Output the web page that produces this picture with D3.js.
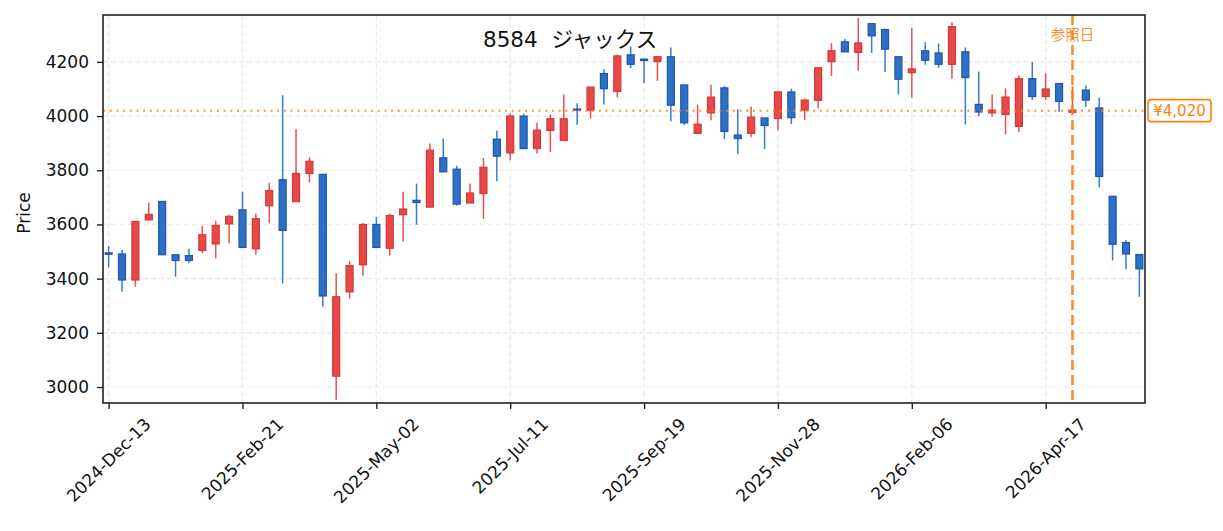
<!DOCTYPE html>
<html>
<head>
<meta charset="utf-8">
<script src="https://cdn.jsdelivr.net/npm/d3@7"></script>
<style>
  body { margin: 0; background: #fff; }
  svg { display: block; }
</style>
</head>
<body>
<div id="chart"></div>
<script>
// weekly candles, Japanese colouring (red = up, blue = down)
const startDate = "2024-12-13";
const candleCount = 78;

const opens = [3495, 3491, 3395, 3617, 3685, 3488, 3485, 3504, 3528, 3602,
  3654, 3510, 3669, 3765, 3684, 3788, 3785, 3040, 3351, 3451,
  3600, 3512, 3636, 3689, 3664, 3846, 3804, 3679, 3714, 3915,
  3864, 4000, 3880, 3947, 3910, 4026, 4022, 4157, 4091, 4226,
  4210, 4201, 4219, 4115, 3936, 4012, 4104, 3930, 3936, 3993,
  3991, 4089, 4022, 4058, 4201, 4274, 4235, 4341, 4319, 4219,
  4160, 4241, 4233, 4191, 4237, 4043, 4012, 4006, 3962, 4138,
  4072, 4120, 4014, 4096, 4030, 3704, 3533, 3489];
const highs = [3521, 3506, 3611, 3681, 3685, 3488, 3510, 3595, 3614, 3636,
  3721, 3640, 3754, 4077, 3951, 3848, 3785, 3420, 3465, 3605,
  3627, 3640, 3721, 3751, 3899, 3917, 3817, 3751, 3846, 3947,
  4010, 4009, 3975, 4006, 4080, 4047, 4107, 4173, 4228, 4257,
  4212, 4219, 4253, 4115, 4042, 4116, 4111, 4025, 4035, 3993,
  4089, 4101, 4065, 4178, 4269, 4284, 4362, 4341, 4323, 4219,
  4325, 4272, 4268, 4346, 4253, 4164, 4080, 4102, 4151, 4200,
  4158, 4120, 4110, 4114, 4068, 3704, 3543, 3489];
const lows = [3441, 3352, 3370, 3617, 3488, 3407, 3457, 3494, 3475, 3531,
  3515, 3488, 3605, 3383, 3684, 3756, 3296, 2953, 3326, 3411,
  3515, 3485, 3537, 3599, 3664, 3794, 3670, 3679, 3621, 3759,
  3837, 3880, 3862, 3867, 3910, 3967, 3991, 4043, 4069, 4177,
  4121, 4130, 3981, 3967, 3936, 3985, 3915, 3859, 3922, 3878,
  3948, 3970, 3985, 4028, 4148, 4237, 4167, 4233, 4163, 4080,
  4068, 4189, 4178, 4138, 3969, 4000, 3998, 3933, 3941, 4059,
  4059, 4015, 4010, 4033, 3737, 3467, 3435, 3333];
const closes = [3490, 3395, 3611, 3637, 3488, 3467, 3467, 3562, 3596, 3630,
  3515, 3621, 3725, 3578, 3788, 3833, 3336, 3333, 3448, 3600,
  3515, 3633, 3657, 3681, 3874, 3794, 3675, 3716, 3811, 3852,
  4000, 3880, 3948, 3990, 3990, 4023, 4107, 4101, 4222, 4191,
  4205, 4219, 4040, 3975, 3970, 4070, 3943, 3917, 3996, 3965,
  4089, 3994, 4059, 4178, 4241, 4237, 4270, 4296, 4247, 4136,
  4174, 4206, 4191, 4330, 4142, 4015, 4022, 4070, 4138, 4072,
  4100, 4054, 4022, 4059, 3777, 3527, 3491, 3436];

const yTicks = [3000, 3200, 3400, 3600, 3800, 4000, 4200];
const xTickEvery = 10;
const refIndex = 72;
const refPrice = 4020;
const titleText = "8584  ジャックス";

const width = 1223, height = 531;
const plot = { left: 103, right: 1145, top: 15, bottom: 403 };

const dates = d3.utcDay.range(new Date(startDate + "T00:00:00Z"),
  d3.utcDay.offset(new Date(startDate + "T00:00:00Z"), candleCount * 7), 7);
const fmt = d3.utcFormat("%Y-%b-%d");

const candles = dates.map((d, i) => ({
  i, date: d, o: opens[i], h: highs[i], l: lows[i], c: closes[i]
}));

const x = d3.scaleLinear().domain([-0.42, candleCount - 1 + 0.42])
  .range([plot.left, plot.right]);
const y = d3.scaleLinear().domain([2941, 4373])
  .range([plot.bottom, plot.top]);

const svg = d3.select("#chart").append("svg")
  .attr("width", width).attr("height", height)
  .style("font-family", "'DejaVu Sans', 'Noto Sans CJK JP', sans-serif");

svg.append("rect").attr("width", width).attr("height", height).attr("fill", "#fff");

const xTickIdx = d3.range(0, candleCount, xTickEvery);

// grid
const grid = svg.append("g");
grid.selectAll("line.gy").data(yTicks).join("line")
  .attr("x1", plot.left).attr("x2", plot.right)
  .attr("y1", d => y(d)).attr("y2", d => y(d))
  .attr("stroke", "#e9e9e9").attr("stroke-width", 1.2)
  .attr("stroke-dasharray", "5,3");
grid.selectAll("line.gx").data(xTickIdx).join("line")
  .attr("x1", d => x(d)).attr("x2", d => x(d))
  .attr("y1", plot.top).attr("y2", plot.bottom)
  .attr("stroke", "#e9e9e9").attr("stroke-width", 1.2)
  .attr("stroke-dasharray", "5,3");

// candles
const up = { fill: "#e84848", edge: "#cf3a3a", wick: "#e65252" };
const down = { fill: "#2c70c8", edge: "#1f56a6", wick: "#3a7bcf" };
const bodyW = 7;

const cg = svg.append("g");
cg.selectAll("line.wick").data(candles).join("line")
  .attr("x1", d => x(d.i)).attr("x2", d => x(d.i))
  .attr("y1", d => y(d.h)).attr("y2", d => y(d.l))
  .attr("stroke", d => d.c >= d.o ? up.wick : down.wick)
  .attr("stroke-width", 1.5);
cg.selectAll("rect.body").data(candles).join("rect")
  .attr("x", d => x(d.i) - bodyW / 2)
  .attr("width", bodyW)
  .attr("y", d => y(Math.max(d.o, d.c)))
  .attr("height", d => Math.max(1, Math.abs(y(d.o) - y(d.c))))
  .attr("fill", d => d.c >= d.o ? up.fill : down.fill)
  .attr("stroke", d => d.c >= d.o ? up.edge : down.edge)
  .attr("stroke-width", 1.2);

// reference lines
const orange = "#ff7f0e";
svg.append("line")
  .attr("x1", plot.left).attr("x2", plot.right)
  .attr("y1", y(refPrice)).attr("y2", y(refPrice))
  .attr("stroke", orange).attr("stroke-opacity", 0.85)
  .attr("stroke-width", 2).attr("stroke-dasharray", "2,4.7");
svg.append("line")
  .attr("x1", x(refIndex)).attr("x2", x(refIndex))
  .attr("y1", plot.top).attr("y2", plot.bottom)
  .attr("stroke", orange).attr("stroke-opacity", 0.9)
  .attr("stroke-width", 2.6).attr("stroke-dasharray", "10,5");

svg.append("text")
  .attr("x", x(refIndex)).attr("y", 40)
  .attr("text-anchor", "middle")
  .attr("font-family", "'Noto Sans CJK JP', sans-serif")
  .attr("font-size", 14.5)
  .attr("fill", orange).attr("fill-opacity", 0.9)
  .text("参照日");

// price tag on the right
const tag = svg.append("g").attr("transform", `translate(1148,${y(refPrice)})`);
tag.append("rect")
  .attr("x", 0).attr("y", -11).attr("width", 63).attr("height", 22)
  .attr("rx", 3).attr("fill", "#fff")
  .attr("stroke", orange).attr("stroke-width", 1.6);
tag.append("text")
  .attr("x", 31.5).attr("y", 5.5)
  .attr("text-anchor", "middle")
  .attr("font-size", 15)
  .attr("fill", orange)
  .text("¥" + d3.format(",")(refPrice));

// axes frame
svg.append("rect")
  .attr("x", plot.left).attr("y", plot.top)
  .attr("width", plot.right - plot.left).attr("height", plot.bottom - plot.top)
  .attr("fill", "none").attr("stroke", "#222").attr("stroke-width", 1.6);

// y axis
const yAxis = svg.append("g")
  .attr("transform", `translate(${plot.left},0)`)
  .call(d3.axisLeft(y).tickValues(yTicks).tickSize(6).tickPadding(8).tickFormat(d3.format("d")));
yAxis.select(".domain").remove();
yAxis.selectAll(".tick line").attr("stroke", "#222").attr("stroke-width", 1.4);
yAxis.selectAll(".tick text")
  .attr("font-family", "'DejaVu Sans', sans-serif")
  .attr("font-size", 17).attr("fill", "#111");

svg.append("text")
  .attr("transform", `translate(30,${(plot.top + plot.bottom) / 2 + 4}) rotate(-90)`)
  .attr("text-anchor", "middle")
  .attr("font-size", 17).attr("fill", "#111")
  .text("Price");

// x axis
const xAxis = svg.append("g")
  .attr("transform", `translate(0,${plot.bottom})`)
  .call(d3.axisBottom(x).tickValues(xTickIdx).tickSize(6).tickFormat(""));
xAxis.select(".domain").remove();
xAxis.selectAll(".tick line").attr("stroke", "#222").attr("stroke-width", 1.4);

const xl = svg.append("g");
xTickIdx.forEach(i => {
  const t = xl.append("text")
    .attr("font-size", 17).attr("fill", "#111")
    .attr("text-anchor", "middle")
    .attr("dominant-baseline", "central")
    .text(fmt(dates[i]));
  const L = t.node().getComputedTextLength();
  const half = (L + 17) / (2 * Math.SQRT2);
  t.attr("transform", `translate(${x(i)},${plot.bottom + 12 + half}) rotate(-45)`);
});

// title
svg.append("text")
  .attr("x", 483).attr("y", 47)
  .attr("font-size", 21.5).attr("fill", "#111")
  .attr("xml:space", "preserve")
  .style("white-space", "pre")
  .text(titleText);
</script>
</body>
</html>
